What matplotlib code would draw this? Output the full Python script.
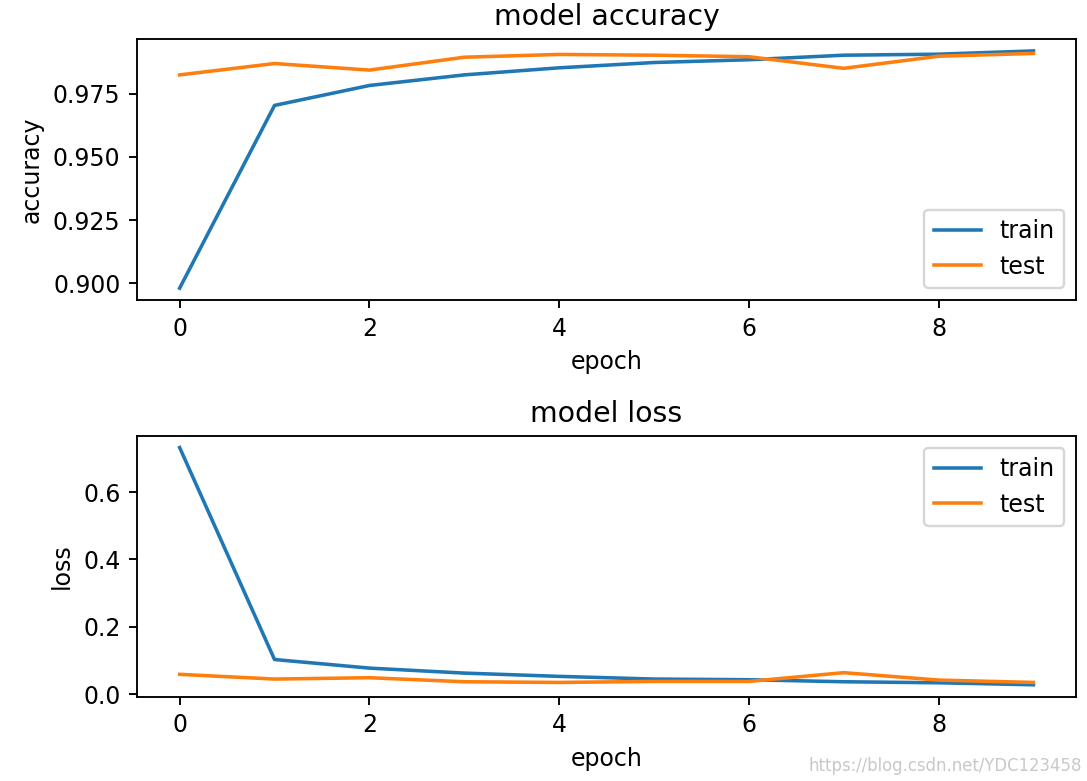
import matplotlib
matplotlib.use("Agg")
import matplotlib.pyplot as plt

epochs = list(range(10))
acc_train = [0.898, 0.9704, 0.9783, 0.9825, 0.9853, 0.9874, 0.9885, 0.9903, 0.9907, 0.9920]
acc_test = [0.9825, 0.9870, 0.9844, 0.9895, 0.9906, 0.9903, 0.9897, 0.9851, 0.9899, 0.9910]
loss_train = [0.732, 0.103, 0.0775, 0.0627, 0.053, 0.045, 0.043, 0.037, 0.034, 0.028]
loss_test = [0.059, 0.045, 0.049, 0.037, 0.035, 0.038, 0.038, 0.064, 0.042, 0.035]

fig = plt.figure(figsize=(1087/170, 781/170), dpi=170)

ax1 = fig.add_subplot(211)
ax1.plot(epochs, acc_train, label="train")
ax1.plot(epochs, acc_test, label="test")
ax1.set_title("model accuracy")
ax1.set_ylabel("accuracy")
ax1.set_xlabel("epoch")
ax1.set_yticks([0.900, 0.925, 0.950, 0.975])
ax1.legend(loc="lower right")

ax2 = fig.add_subplot(212)
ax2.plot(epochs, loss_train, label="train")
ax2.plot(epochs, loss_test, label="test")
ax2.set_title("model loss")
ax2.set_ylabel("loss")
ax2.set_xlabel("epoch")
ax2.legend(loc="upper right")

fig.subplots_adjust(left=0.126, right=0.990, top=0.950, bottom=0.108, hspace=0.52)
fig.text(0.995, 0.008, "https://blog.csdn.net/YDC123458", ha="right", va="bottom",
         fontsize=7, color="#c8c8c8")

fig.savefig("out.png", dpi=170)
